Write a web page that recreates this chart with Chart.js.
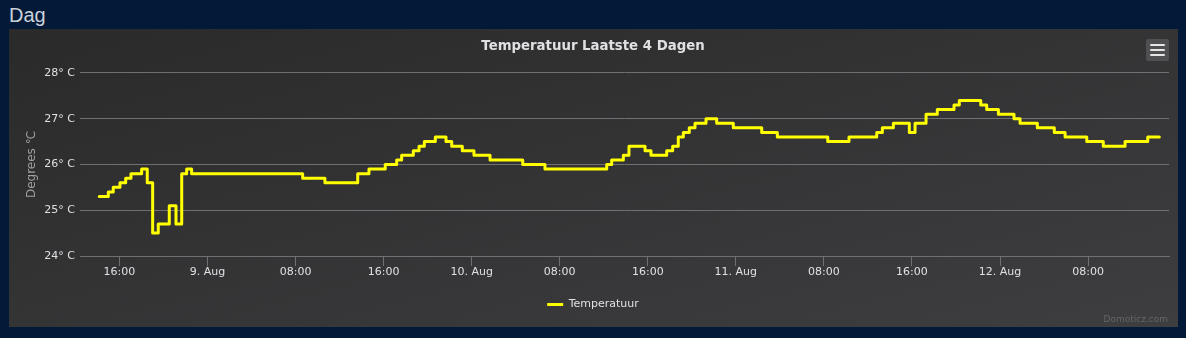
<!DOCTYPE html>
<html>
<head>
<meta charset="utf-8">
<script src="https://cdn.jsdelivr.net/npm/chart.js@4/dist/chart.umd.min.js"></script>
<style>
  html, body { margin: 0; padding: 0; }
  body { width: 1186px; height: 338px; background: #021a38; position: relative; overflow: hidden; }
  h2 {
    position: absolute; left: 9px; top: 4px; margin: 0;
    font: 20px "Liberation Sans", Arial, sans-serif; color: #c9d0d8; font-weight: normal;
  }
  #panel {
    position: absolute; left: 9px; top: 29px; width: 1169px; height: 298px;
    background: linear-gradient(to bottom right, #2a2a2b, #3e3e40);
  }
  #menu {
    position: absolute; right: 9px; top: 10px; width: 23px; height: 22px;
    background: #505053; border-radius: 2px;
  }
  #menu span {
    position: absolute; left: 4px; width: 15px; height: 2px; background: #e6e6e6; border-radius: 1px;
  }
  #credits {
    position: absolute; right: 10px; bottom: 3px;
    font: 9px "DejaVu Sans", sans-serif; color: #666;
  }
</style>
</head>
<body>
<h2>Dag</h2>
<div id="panel">
  <canvas id="chart" width="1169" height="298"></canvas>
  <div id="menu"><span style="top:5px"></span><span style="top:10px"></span><span style="top:15px"></span></div>
  <div id="credits">Domoticz.com</div>
</div>
<script>
// hours relative to 9 Aug 00:00, each value holds until the next entry
const hours = [
  -9.83, -9.01, -8.56, -7.95, -7.43, -6.95, -5.98, -5.47, -4.98, -4.47,
  -3.47, -2.86, -2.34, -1.89, -1.44, 8.65, 10.67, 13.65, 14.67, 16.15,
  17.19, 17.64, 18.70, 19.22, 19.70, 20.70, 21.67, 22.19, 23.15, 24.21,
  25.67, 28.64, 30.66, 36.27, 36.72, 37.78, 38.29, 39.75, 40.29, 41.72,
  42.26, 42.77, 43.23, 43.77, 44.29, 45.29, 46.26, 47.77, 50.35, 51.77,
  56.35, 58.28, 60.80, 61.31, 62.31, 63.76, 64.28, 65.28, 66.30, 67.82,
  68.30, 70.25, 70.79, 71.85, 73.27, 73.82, 75.39, 76.93, 77.91, 79.88,
  81.38, 83.36, 85.42, 86.47
];
const temperatures = [
  25.3, 25.4, 25.5, 25.6, 25.7, 25.8, 25.9, 25.6, 24.5, 24.7,
  25.1, 24.7, 25.8, 25.9, 25.8, 25.7, 25.6, 25.8, 25.9, 26.0,
  26.1, 26.2, 26.3, 26.4, 26.5, 26.6, 26.5, 26.4, 26.3, 26.2,
  26.1, 26.0, 25.9, 26.0, 26.1, 26.2, 26.4, 26.3, 26.2, 26.3,
  26.4, 26.6, 26.7, 26.8, 26.9, 27.0, 26.9, 26.8, 26.7, 26.6,
  26.5, 26.6, 26.7, 26.8, 26.9, 26.7, 26.9, 27.1, 27.2, 27.3,
  27.4, 27.3, 27.2, 27.1, 27.0, 26.9, 26.8, 26.7, 26.6, 26.5,
  26.4, 26.5, 26.6, 26.6
];
const tickHours = [-8, 0, 8, 16, 24, 32, 40, 48, 56, 64, 72, 80];
const tickLabels = ['16:00', '9. Aug', '08:00', '16:00', '10. Aug', '08:00',
  '16:00', '11. Aug', '08:00', '16:00', '12. Aug', '08:00'];
const yTicks = [24, 25, 26, 27, 28];

const gridColor = '#707073';
const textColor = '#E0E0E3';
const fontFamily = '"DejaVu Sans", sans-serif';

const points = hours.map((h, i) => ({ x: h, y: temperatures[i] }));

new Chart(document.getElementById('chart'), {
  type: 'line',
  data: {
    datasets: [{
      label: 'Temperatuur',
      data: points,
      borderColor: '#ffff00',
      backgroundColor: '#ffff00',
      borderWidth: 3,
      borderJoinStyle: 'round',
      borderCapStyle: 'round',
      pointRadius: 0,
      // hold each value until the next point
      stepped: 'before',
      fill: false,
    }],
  },
  options: {
    responsive: false,
    animation: false,
    layout: { padding: { left: 8, right: 9, top: 0, bottom: 7 } },
    plugins: {
      title: {
        display: true,
        text: 'Temperatuur Laatste 4 Dagen',
        color: textColor,
        font: { family: fontFamily, size: 13.3, weight: 'bold' },
        padding: { top: 10, bottom: 18 },
      },
      legend: {
        position: 'bottom',
        labels: {
          color: textColor,
          font: { family: fontFamily, size: 11 },
          boxWidth: 16,
          boxHeight: 3,
          padding: 10,
          generateLabels(chart) {
            return Chart.defaults.plugins.legend.labels.generateLabels(chart)
              .map((l) => Object.assign(l, { lineWidth: 0 }));
          },
        },
      },
      tooltip: { enabled: false },
    },
    scales: {
      x: {
        type: 'linear',
        min: -11.58,
        max: 87.35,
        afterBuildTicks(scale) {
          scale.ticks = tickHours.map((v) => ({ value: v }));
        },
        afterFit(scale) { scale.height = 33; },
        border: { color: gridColor, width: 1 },
        grid: { drawOnChartArea: false, tickLength: 10, color: gridColor },
        ticks: {
          color: textColor,
          font: { family: fontFamily, size: 11 },
          padding: 0,
          maxRotation: 0,
          autoSkip: false,
          callback: (v) => tickLabels[tickHours.indexOf(v)],
        },
      },
      y: {
        min: 24,
        max: 28,
        afterBuildTicks(scale) {
          scale.ticks = yTicks.map((v) => ({ value: v }));
        },
        afterFit(scale) { scale.width = 63; },
        border: { display: false },
        grid: { color: gridColor, drawTicks: false },
        ticks: {
          color: textColor,
          font: { family: fontFamily, size: 11 },
          padding: 5,
          callback: (v) => v + '° C',
        },
        title: {
          display: true,
          text: 'Degrees ℃',
          color: '#A0A0A3',
          font: { family: fontFamily, size: 12 },
          padding: { top: 8, bottom: 0 },
        },
      },
    },
  },
});
</script>
</body>
</html>
